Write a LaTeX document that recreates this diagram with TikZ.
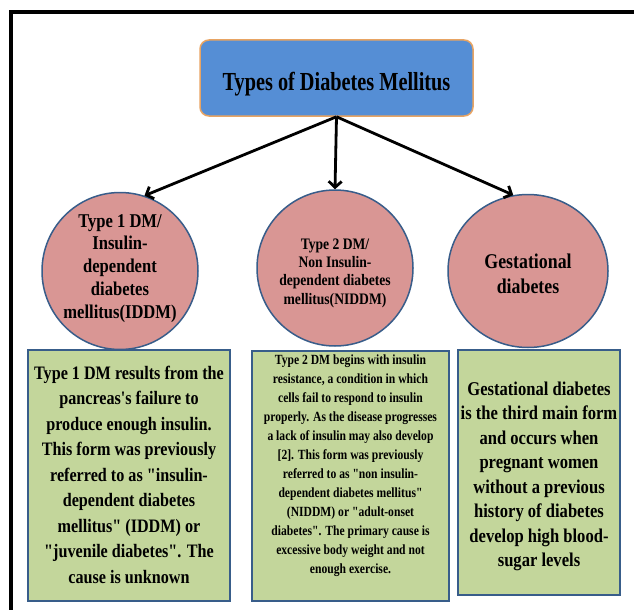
\documentclass[tikz,border=0pt]{standalone}
\usepackage{fontspec}
\newfontfamily\cf{Liberation Serif}
\usepackage{graphicx}
\usetikzlibrary{shapes.geometric,arrows.meta}
\definecolor{titleblue}{HTML}{558ED5}
\definecolor{titleedge}{HTML}{E8A463}
\definecolor{pinkfill}{HTML}{D99694}
\definecolor{edgeblue}{HTML}{385D8A}
\definecolor{greenfill}{HTML}{C3D69B}
\newcommand\sqz[2][0.85]{\scalebox{#1}[1]{\begin{tabular}{@{}c@{}}#2\end{tabular}}}
\tikzset{
  titlebox/.style={draw=titleedge, line width=1.5pt, fill=titleblue, rounded corners=9pt, rectangle, inner sep=0pt},
  typeoval/.style={draw=edgeblue, line width=1.5pt, fill=pinkfill, ellipse, inner sep=0pt},
  infobox/.style={draw=edgeblue, line width=2pt, fill=greenfill, rectangle, inner sep=0pt},
  txt/.style={align=center, inner sep=0pt, text=black},
  branch/.style={line width=2.8pt, -{Straight Barb[length=6pt,width=13pt]}},
}
\begin{document}
\begin{tikzpicture}[x=1pt,y=-1pt]
\useasboundingbox (0,0) rectangle (634,610);
\fill[white] (0,0) rectangle (634,610);
\draw[line width=4pt] (634,12) -- (11,12) -- (11,610);

\node[titlebox, minimum width=273pt, minimum height=76pt] (title) at (336.5,78) {};
\node[txt, font=\cf\bfseries\fontsize{26}{30}\selectfont] (titletext) at (336.5,84) {\sqz[0.78]{Types of Diabetes Mellitus}};

\node[typeoval, minimum width=156pt, minimum height=157pt] (c1) at (120,271) {};
\node[typeoval, minimum width=156pt, minimum height=156pt] (c2) at (335,268) {};
\node[typeoval, minimum width=160pt, minimum height=153pt] (c3) at (528,271) {};

\node[txt, font=\cf\bfseries\fontsize{19.5}{22.75}\selectfont] (c1t) at (120,268)
  {\sqz{Type 1 DM/\\Insulin-\\dependent\\diabetes\\mellitus(IDDM)}};
\node[txt, font=\cf\bfseries\fontsize{16}{18.3}\selectfont] (c2t) at (335,273)
  {\sqz{Type 2 DM/\\Non Insulin-\\dependent diabetes\\mellitus(NIDDM)}};
\node[txt, font=\cf\bfseries\fontsize{21}{25}\selectfont] (c3t) at (528,276)
  {\sqz{Gestational\\diabetes}};

\draw[branch] (title.south) -- (c1.72);
\draw[branch] (title.south) -- (c2.north);
\draw[branch] (title.south) -- (c3.101);

\node[infobox, minimum width=202pt, minimum height=251pt] (b1) at (129,475.5) {};
\node[infobox, minimum width=197pt, minimum height=250pt] (b2) at (350.5,476) {};
\node[infobox, minimum width=162pt, minimum height=245pt] (b3) at (539,472.5) {};

\node[txt, font=\cf\bfseries\fontsize{19}{25.5}\selectfont] (b1t) at (129,476)
  {\sqz{Type 1 DM results from the\\pancreas's failure to\\produce enough insulin.\\This form was previously\\referred to as "insulin-\\dependent diabetes\\mellitus" (IDDM) or\\"juvenile diabetes". The\\cause is unknown}};
\node[txt, font=\cf\bfseries\fontsize{14}{19}\selectfont] (b2t) at (350.5,465)
  {\sqz[0.83]{Type 2 DM begins with insulin\\resistance, a condition in which\\cells fail to respond to insulin\\properly. As the disease progresses\\a lack of insulin may also develop\\{[2]}. This form was previously\\referred to as "non insulin-\\dependent diabetes mellitus"\\(NIDDM) or "adult-onset\\diabetes". The primary cause is\\excessive body weight and not\\enough exercise.}};
\node[txt, font=\cf\bfseries\fontsize{19.5}{24.5}\selectfont] (b3t) at (539,476)
  {\sqz{Gestational diabetes\\is the third main form\\and occurs when\\pregnant women\\without a previous\\history of diabetes\\develop high blood-\\sugar levels}};
\end{tikzpicture}
\end{document}
